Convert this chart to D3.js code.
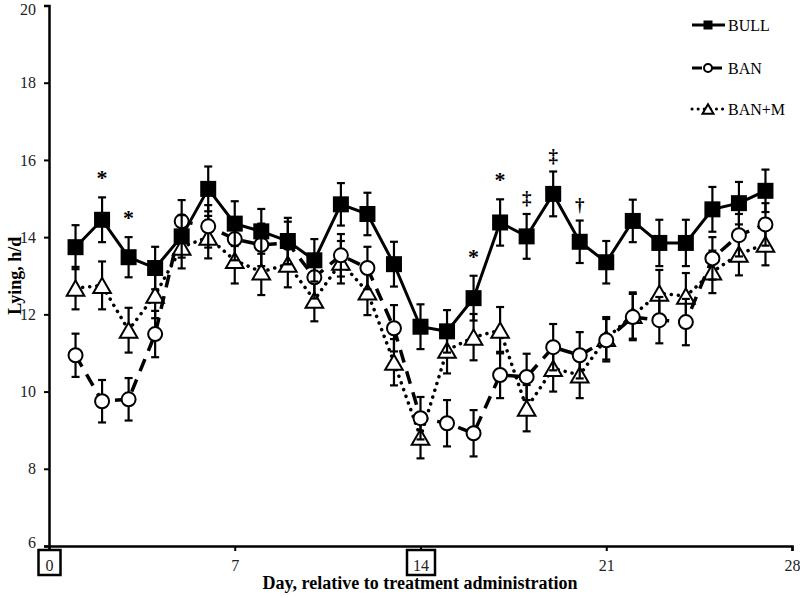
<!DOCTYPE html>
<html>
<head>
<meta charset="utf-8">
<script src="https://cdn.jsdelivr.net/npm/d3@7"></script>
<style>
  body { margin: 0; background: #fff; }
  svg { display: block; font-family: "Liberation Serif", "Times New Roman", serif; }
</style>
</head>
<body>
<svg id="chart" width="800" height="598"></svg>
<script>

// data
const days = [1,2,3,4,5,6,7,8,9,10,11,12,13,14,15,16,17,18,19,20,21,22,23,24,25,26,27];
const bull = [13.74,14.45,13.48,13.2,14.02,15.25,14.35,14.15,13.9,13.4,14.85,14.6,13.3,11.68,11.56,12.42,14.38,14.02,15.12,13.88,13.35,14.42,13.85,13.85,14.72,14.88,15.2];
const ban = [10.94,9.75,9.8,11.49,14.41,14.28,13.95,13.8,13.85,12.96,13.53,13.2,11.64,9.31,9.18,8.92,10.43,10.38,11.15,10.94,11.33,11.93,11.85,11.8,13.45,14.05,14.33];
const banM = [12.68,12.75,11.59,12.5,13.74,14.0,13.4,13.1,13.3,12.37,13.35,12.58,10.76,8.82,11.07,11.41,11.59,9.57,10.6,10.43,11.38,11.97,12.55,12.47,13.1,13.56,13.82];

const bullSE = [0.57,0.58,0.52,0.55,0.55,0.58,0.58,0.58,0.6,0.55,0.55,0.55,0.58,0.58,0.55,0.58,0.6,0.58,0.58,0.55,0.55,0.55,0.6,0.6,0.58,0.55,0.55];
const banSE = [0.56,0.55,0.55,0.6,0.55,0.55,0.55,0.55,0.55,0.55,0.55,0.55,0.6,0.55,0.6,0.6,0.6,0.6,0.6,0.6,0.55,0.6,0.6,0.6,0.55,0.55,0.55];
const banMSE = [0.55,0.62,0.58,0.6,0.55,0.55,0.6,0.6,0.6,0.55,0.55,0.6,0.6,0.55,0.6,0.6,0.6,0.6,0.6,0.6,0.55,0.6,0.6,0.6,0.55,0.55,0.55];

const xTicks = [0, 7, 14, 21, 28];
const yTicks = [6, 8, 10, 12, 14, 16, 18, 20];
const boxedTicks = [0, 14];

// significance marks over BULL
const markDays = [2, 3, 16, 17, 18, 19, 20];
const markSymbols = ['*', '*', '*', '*', '\u2021', '\u2021', '\u2020'];

const svg = d3.select('#chart');

const x = d3.scaleLinear().domain([0, 28]).range([49, 792]);
const y = d3.scaleLinear().domain([6, 20]).range([546, 5.5]);

// axes
const yAxis = d3.axisLeft(y).tickValues(yTicks).tickSize(5).tickPadding(8);
const xAxis = d3.axisBottom(x).tickValues(xTicks).tickSize(5).tickPadding(9);

const gy = svg.append('g').attr('transform', `translate(${x(0)},0)`).call(yAxis);
const gx = svg.append('g').attr('transform', `translate(0,${y(6)})`).call(xAxis);

[gy, gx].forEach(g => {
  g.select('.domain').attr('stroke', '#000').attr('stroke-width', 2.5);
  g.selectAll('.tick line').attr('stroke', '#000').attr('stroke-width', 2);
  g.selectAll('.tick text')
    .attr('fill', '#222')
    .style('font-family', '"Liberation Serif", serif')
    .style('font-size', '16px');
});

// keep the top label inside the frame
gy.selectAll('.tick text').filter(d => d == 20).attr('dy', '0.55em');
gy.selectAll('.tick text').filter(d => d == 6).attr('dy', '0.1em');

// boxes round the 0 and 14 labels
gx.selectAll('.tick').filter(d => boxedTicks.includes(d))
  .insert('rect', 'text')
  .attr('x', d => d < 10 ? -11 : -14)
  .attr('y', 4)
  .attr('width', d => d < 10 ? 22 : 28)
  .attr('height', 25)
  .attr('fill', 'white')
  .attr('stroke', '#000')
  .attr('stroke-width', 2.5);

// axis titles
svg.append('text')
  .attr('transform', `translate(21,${y(13)}) rotate(-90)`)
  .attr('text-anchor', 'middle')
  .style('font-size', '18px')
  .style('font-weight', 'bold')
  .text('Lying, h/d');

svg.append('text')
  .attr('x', 420)
  .attr('y', 589)
  .attr('text-anchor', 'middle')
  .style('font-size', '18px')
  .style('font-weight', 'bold')
  .text('Day, relative to treatment administration');

// series
const series = [
  { name: 'BAN+M', vals: banM, se: banMSE, dash: '0.1 7', cap: 'round', shape: 'tri' },
  { name: 'BAN', vals: ban, se: banSE, dash: '13 9', cap: 'butt', shape: 'circle' },
  { name: 'BULL', vals: bull, se: bullSE, dash: null, cap: 'butt', shape: 'square' }
];

function drawMarker(sel, shape, size) {
  if (shape == 'square') {
    sel.append('rect')
      .attr('x', -size / 2).attr('y', -size / 2)
      .attr('width', size).attr('height', size)
      .attr('fill', '#000');
  } else if (shape == 'circle') {
    sel.append('circle')
      .attr('r', size / 2 - 1)
      .attr('fill', 'white')
      .attr('stroke', '#000')
      .attr('stroke-width', 2);
  } else {
    const h = size * 0.95, w = size * 0.55;
    sel.append('path')
      .attr('d', `M0,${-h / 2}L${w},${h / 2}L${-w},${h / 2}Z`)
      .attr('fill', 'white')
      .attr('stroke', '#000')
      .attr('stroke-width', 2)
      .attr('stroke-linejoin', 'miter');
  }
}

series.forEach(s => {
  const pts = days.map((d, i) => ({ day: d, v: s.vals[i], se: s.se[i] }));
  const g = svg.append('g').attr('class', 'series');

  const line = d3.line().x(d => x(d.day)).y(d => y(d.v));
  g.append('path')
    .datum(pts)
    .attr('d', line)
    .attr('fill', 'none')
    .attr('stroke', '#000')
    .attr('stroke-width', s.shape == 'square' ? 3 : 3.5)
    .attr('stroke-dasharray', s.dash)
    .attr('stroke-linecap', s.cap);

  // error bars
  const eb = g.selectAll('.eb').data(pts).join('g').attr('class', 'eb')
    .attr('transform', d => `translate(${x(d.day)},0)`)
    .attr('stroke', '#000').attr('stroke-width', 2.2);
  eb.append('line').attr('y1', d => y(d.v + d.se)).attr('y2', d => y(d.v - d.se));
  eb.append('line').attr('x1', -4).attr('x2', 4).attr('y1', d => y(d.v + d.se)).attr('y2', d => y(d.v + d.se));
  eb.append('line').attr('x1', -4).attr('x2', 4).attr('y1', d => y(d.v - d.se)).attr('y2', d => y(d.v - d.se));

  // markers
  g.selectAll('.mk').data(pts).join('g').attr('class', 'mk')
    .attr('transform', d => `translate(${x(d.day)},${y(d.v)})`)
    .each(function () { drawMarker(d3.select(this), s.shape, 16); });
});

// significance marks
svg.selectAll('.sig').data(markDays)
  .join('text')
  .attr('class', 'sig')
  .attr('x', d => x(d))
  .attr('y', (d, i) => y(bull[d - 1] + bullSE[d - 1]) - (markSymbols[i] == '*' ? 12 : 10))
  .attr('text-anchor', 'middle')
  .style('font-size', (d, i) => markSymbols[i] == '*' ? '22px' : '19px')
  .style('font-weight', 'bold')
  .text((d, i) => markSymbols[i]);

// legend
const legendY = [25, 68, 109];
const leg = svg.selectAll('.leg').data(series.slice().reverse())
  .join('g').attr('class', 'leg')
  .attr('transform', (d, i) => `translate(708,${legendY[i]})`);

leg.append('line')
  .attr('x1', -16).attr('x2', 17)
  .attr('stroke', '#000')
  .attr('stroke-width', 3)
  .attr('stroke-dasharray', d => d.shape == 'tri' ? '0.1 6' : (d.shape == 'circle' ? '10 10' : null))
  .attr('stroke-linecap', d => d.cap);
leg.each(function (d) { drawMarker(d3.select(this), d.shape, d.shape == 'square' ? 9 : 10); });
leg.append('text')
  .attr('x', 20)
  .attr('dy', '0.35em')
  .style('font-size', '16px')
  .text(d => d.name);

</script>
</body>
</html>
